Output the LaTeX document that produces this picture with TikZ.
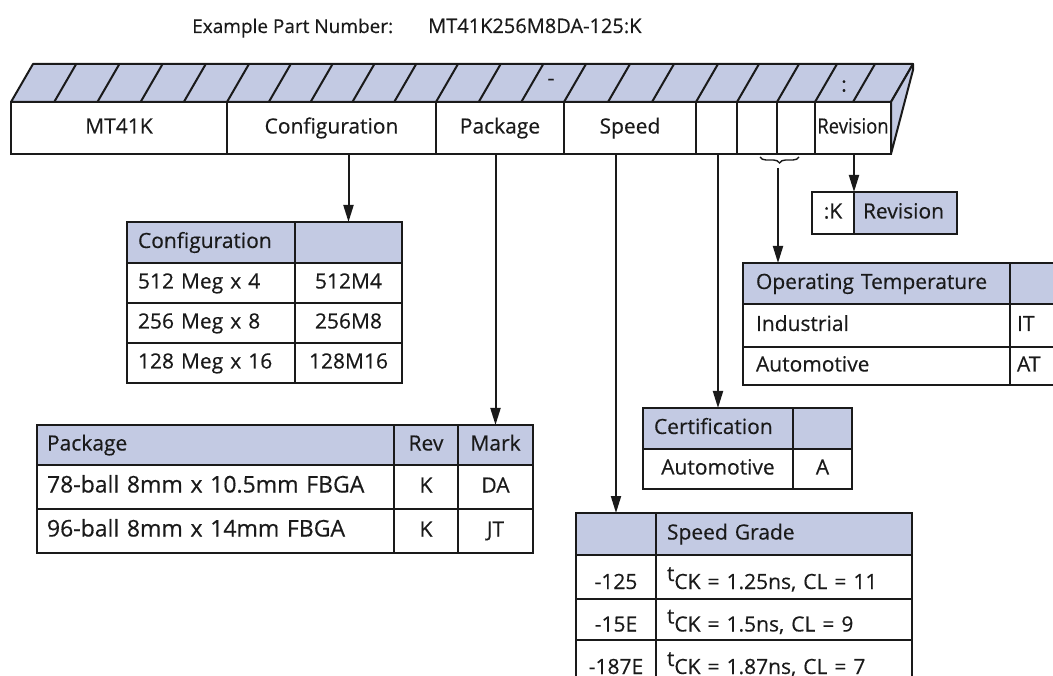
\documentclass[tikz,border=0pt]{standalone}
\usepackage{fontspec}
\setmainfont{Open Sans}[FakeBold=0.4]
\usetikzlibrary{arrows.meta,positioning,decorations.pathreplacing}
\definecolor{ink}{HTML}{1A1A1A}
\definecolor{lav}{HTML}{C3CAE3}
\newcommand\cellfont{\fontsize{21}{24}\selectfont}
\tikzset{
  cell/.style={draw=ink,line width=2pt,inner sep=0pt,outer sep=0pt,text=ink,font=\cellfont,text height=15pt,text depth=4pt},
  lcell/.style={cell,align=left,text width=#1,inner xsep=11pt},
  ccell/.style={cell,align=center,minimum width=#1},
  bar/.style={ccell=#1,minimum height=52pt},
  hd/.style={fill=lav},
  low/.style={text height=26pt,text depth=2pt},
  big/.style={font=\fontsize{23}{26}\selectfont},
  flow/.style={-{Triangle[length=17pt,width=10pt]},line width=2pt,draw=ink},
  face/.style={draw=ink,line width=2pt,fill=lav,line join=round},
  slash/.style={draw=ink,line width=2pt}
}

\begin{document}
\begin{tikzpicture}[x=1pt,y=-1pt]
  \path[use as bounding box] (0,0) rectangle (1053,676);
  \clip (0,0) rectangle (1053,676);

  % part number
  \node[font=\fontsize{19}{22}\selectfont,text=ink,anchor=base west,inner sep=0pt] (exlabel) at (192,33) {Example Part Number:};
  \node[font=\fontsize{20}{22}\selectfont,text=ink,anchor=base west,inner sep=0pt] (exnum) at (428,33) {MT41K256M8DA-125:K};

  % the bar, top and side
  \draw[face] (11,102) -- (33,64) -- (913,64) -- (891,102) -- cycle;
  \draw[face] (891,102) -- (913,64) -- (913,70) -- (891,154) -- cycle;
  \foreach \x in {54.2,97.4,140.6,183.8,227,268.8,310.6,352.4,394.2,436,478.7,521.3,564,608,652,696,737,777,815,853}
    \draw[slash] (\x,102) -- ++(22,-38);
  \node[font=\cellfont,text=ink] (dash) at (551,82) {-};
  \node[font=\cellfont,text=ink] (colon) at (844,86) {:};

  % the bar, front
  \node[bar=216pt,anchor=north west] (prefix) at (11,102) {MT41K};
  \node[bar=209pt,right=0pt of prefix] (cfg) {Configuration};
  \node[bar=128pt,right=0pt of cfg] (pkg) {Package};
  \node[bar=132pt,right=0pt of pkg] (spd) {Speed};
  \node[bar=41pt,right=0pt of spd] (cert) {};
  \node[bar=40pt,right=0pt of cert] (tmpa) {};
  \node[bar=38pt,right=0pt of tmpa] (tmpb) {};
  \node[bar=76pt,right=0pt of tmpb] (rev) {\scalebox{0.88}[1]{Revision}};

  \draw[line width=1.4pt,draw=ink,decorate,decoration={brace,amplitude=6pt}] (799,157) -- (760,157);
  \coordinate (brtip) at (778,168);

  % configuration
  \node[lcell=146pt,hd,minimum height=41pt,anchor=north west] (cfgh) at (127,222) {Configuration};
  \node[ccell=107pt,hd,minimum height=41pt,right=0pt of cfgh] (cfghc) {};
  \node[lcell=146pt,minimum height=40pt,below=0pt of cfgh] (cfg1) {512 Meg x 4};
  \node[ccell=107pt,minimum height=40pt,right=0pt of cfg1] (cfg1c) {512M4};
  \node[lcell=146pt,minimum height=40pt,below=0pt of cfg1] (cfg2) {256 Meg x 8};
  \node[ccell=107pt,minimum height=40pt,right=0pt of cfg2] (cfg2c) {256M8};
  \node[lcell=146pt,minimum height=40pt,below=0pt of cfg2] (cfg3) {128 Meg x 16};
  \node[ccell=107pt,minimum height=40pt,right=0pt of cfg3] (cfg3c) {128M16};

  % package
  \node[lcell=337pt,inner xsep=10pt,hd,minimum height=40pt,anchor=north west] (pkgh) at (37,425) {Package};
  \node[ccell=64pt,hd,minimum height=40pt,right=0pt of pkgh] (pkghr) {Rev};
  \node[ccell=75pt,hd,minimum height=40pt,right=0pt of pkghr] (pkghm) {Mark};
  \node[lcell=337pt,inner xsep=10pt,big,minimum height=44pt,below=0pt of pkgh] (pkg1) {78-ball 8mm x 10.5mm FBGA};
  \node[ccell=64pt,minimum height=44pt,right=0pt of pkg1] (pkg1r) {K};
  \node[ccell=75pt,minimum height=44pt,right=0pt of pkg1r] (pkg1m) {DA};
  \node[lcell=337pt,inner xsep=10pt,big,minimum height=44pt,below=0pt of pkg1] (pkg2) {96-ball 8mm x 14mm FBGA};
  \node[ccell=64pt,minimum height=44pt,right=0pt of pkg2] (pkg2r) {K};
  \node[ccell=75pt,minimum height=44pt,right=0pt of pkg2r] (pkg2m) {JT};

  % speed grade
  \node[ccell=80pt,hd,minimum height=42pt,anchor=north west] (spdh) at (576,513) {};
  \node[lcell=234pt,hd,minimum height=42pt,right=0pt of spdh] (spdhg) {Speed Grade};
  \node[ccell=80pt,low,minimum height=44pt,below=0pt of spdh] (spd1) {-125};
  \node[lcell=234pt,low,minimum height=44pt,right=0pt of spd1] (spd1g) {\raisebox{8pt}{t}CK = 1.25ns, CL = 11};
  \node[ccell=80pt,low,minimum height=41pt,below=0pt of spd1] (spd2) {-15E};
  \node[lcell=234pt,low,minimum height=41pt,right=0pt of spd2] (spd2g) {\raisebox{8pt}{t}CK = 1.5ns, CL = 9};
  \node[ccell=80pt,low,minimum height=44pt,below=0pt of spd2] (spd3) {-187E};
  \node[lcell=234pt,low,minimum height=44pt,right=0pt of spd3] (spd3g) {\raisebox{8pt}{t}CK = 1.87ns, CL = 7};

  % certification
  \node[lcell=128pt,hd,minimum height=41pt,anchor=north west] (certh) at (643,408) {Certification};
  \node[ccell=59pt,hd,minimum height=41pt,right=0pt of certh] (certhc) {};
  \node[ccell=150pt,minimum height=40pt,below=0pt of certh] (cert1) {Automotive};
  \node[ccell=59pt,minimum height=40pt,right=0pt of cert1] (cert1c) {A};

  % operating temperature
  \node[lcell=241pt,inner xsep=13pt,hd,minimum height=41pt,anchor=north west] (tmph) at (743,263) {Operating Temperature};
  \node[lcell=66pt,inner xsep=7pt,hd,minimum height=41pt,right=0pt of tmph] (tmphc) {};
  \node[lcell=241pt,inner xsep=13pt,minimum height=43pt,below=0pt of tmph] (tmp1) {Industrial};
  \node[lcell=66pt,inner xsep=7pt,minimum height=43pt,right=0pt of tmp1] (tmp1c) {IT};
  \node[lcell=241pt,inner xsep=13pt,minimum height=38pt,below=0pt of tmp1] (tmp2) {Automotive};
  \node[lcell=66pt,inner xsep=7pt,minimum height=38pt,right=0pt of tmp2] (tmp2c) {AT};

  % revision
  \node[ccell=42pt,minimum height=42pt,anchor=north west] (revk) at (812,192) {:K};
  \node[lcell=85pt,inner xsep=9pt,hd,minimum height=42pt,right=0pt of revk] (revt) {Revision};

  \draw[flow] (cfg.south -| cfghc.north) -- (cfghc.north);
  \draw[flow] (pkg.south -| pkghm.north) -- (pkghm.north);
  \draw[flow] (spd.south -| spdh.north) -- (spdh.north);
  \draw[flow] (cert.south -| certh.north) -- (certh.north);
  \draw[flow] (brtip) -- (brtip |- tmph.north);
  \draw[flow] (rev.south -| revk.north east) -- (revk.north east);
\end{tikzpicture}
\end{document}
